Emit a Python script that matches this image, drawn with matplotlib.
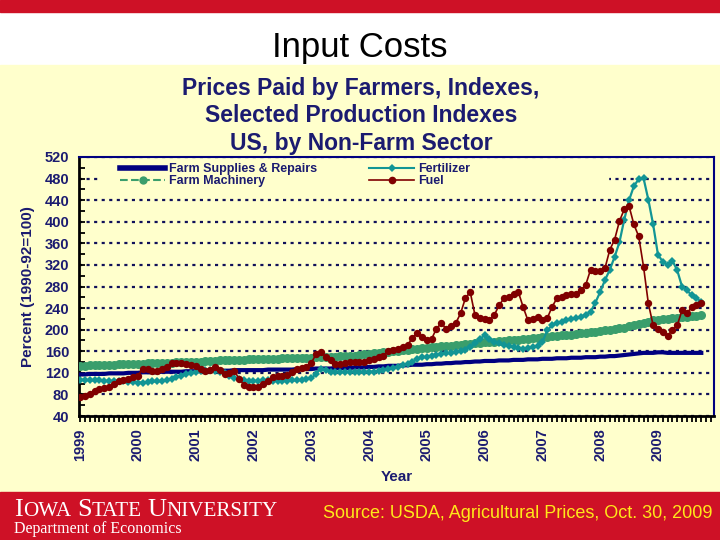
import matplotlib
matplotlib.use('Agg')
import matplotlib.pyplot as plt
from matplotlib.patches import Rectangle
from matplotlib.lines import Line2D
from matplotlib.ticker import MultipleLocator
import numpy as np
import pandas as pd

plt.rcParams['font.family'] = ['Liberation Sans', 'DejaVu Sans']

# monthly index values, Jan 1999 - Oct 2009 (1990-92=100)
months = pd.date_range('1999-01-01', periods=130, freq='MS')

supplies = [117, 117, 118, 118, 118, 118, 119, 119, 119, 119, 120, 120,
            120, 121, 121, 121, 121, 122, 122, 122, 122, 122, 123, 123,
            123, 123, 123, 124, 124, 124, 124, 124, 125, 125, 125, 125,
            125, 125, 125, 126, 126, 126, 126, 126, 126, 127, 127, 127,
            127, 128, 128, 128, 128, 129, 129, 129, 129, 130, 130, 130,
            131, 131, 132, 132, 133, 133, 133, 134, 134, 135, 135, 135,
            136, 136, 137, 137, 138, 138, 139, 139, 140, 140, 141, 141,
            142, 142, 142, 143, 143, 143, 144, 144, 144, 145, 145, 145,
            146, 146, 146, 147, 147, 147, 148, 148, 148, 149, 149, 149,
            150, 150, 151, 151, 152, 153, 154, 155, 156, 157, 157, 157,
            158, 158, 157, 157, 157, 157, 157, 157, 157, 157]

machinery = [133, 133, 134, 134, 134, 135, 135, 135, 136, 136, 136, 137,
             137, 137, 138, 138, 138, 139, 139, 139, 140, 140, 140, 141,
             141, 141, 142, 142, 142, 143, 143, 143, 144, 144, 144, 145,
             145, 145, 145, 146, 146, 146, 147, 147, 147, 147, 148, 148,
             148, 149, 149, 149, 150, 150, 151, 151, 152, 152, 153, 154,
             155, 156, 157, 158, 159, 160, 161, 162, 163, 164, 165, 166,
             166, 167, 168, 169, 170, 170, 171, 172, 173, 174, 175, 176,
             177, 177, 178, 179, 179, 180, 181, 181, 182, 183, 184, 185,
             186, 187, 188, 189, 190, 190, 191, 192, 193, 194, 195, 196,
             198, 199, 200, 201, 203, 204, 206, 208, 210, 213, 215, 217,
             218, 219, 220, 221, 222, 223, 224, 225, 226, 227]

fertilizer = [107, 107, 106, 106, 106, 105, 105, 105, 104, 104, 103, 103,
              102, 102, 103, 104, 104, 105, 107, 109, 112, 115, 117, 119,
              122, 124, 126, 126, 124, 121, 119, 115, 111, 108, 106, 105,
              105, 105, 106, 106, 105, 105, 105, 105, 106, 106, 107, 108,
              110, 118, 128, 126, 122, 121, 121, 121, 122, 122, 122, 122,
              122, 122, 123, 125, 127, 129, 131, 134, 137, 141, 146, 149,
              149, 151, 153, 155, 156, 157, 158, 160, 163, 168, 175, 182,
              190, 182, 178, 175, 172, 170, 168, 166, 165, 166, 167, 170,
              177, 199, 208, 212, 215, 217, 219, 221, 224, 228, 233, 250,
              270, 292, 311, 335, 362, 404, 440, 466, 479, 481, 441, 395,
              339, 326, 320, 328, 310, 280, 273, 264, 258, 252]

fuel = [76, 77, 81, 86, 90, 92, 93, 100, 105, 107, 109, 112,
        115, 128, 127, 124, 124, 128, 130, 138, 139, 138, 137, 135,
        132, 128, 124, 126, 130, 125, 118, 120, 124, 109, 98, 93,
        93, 94, 100, 105, 112, 115, 115, 116, 122, 128, 129, 130,
        138, 155, 158, 150, 143, 137, 137, 138, 140, 140, 140, 140,
        143, 146, 149, 152, 161, 163, 165, 168, 171, 185, 193, 186,
        180, 183, 202, 212, 202, 207, 212, 230, 258, 270, 227, 221,
        219, 217, 227, 245, 258, 261, 267, 270, 242, 217, 220, 224,
        217, 221, 242, 258, 261, 264, 266, 267, 273, 283, 311, 308,
        308, 314, 348, 367, 401, 423, 429, 395, 373, 317, 249, 208,
        202, 195, 189, 199, 208, 236, 230, 242, 245, 249]

years = list(range(1999, 2010))

W, H = 720, 540
RED = '#CE1126'
CREAM = '#FFFFCC'
TXT = '#1b1b70'
C_SUP = '#000080'
C_MACH = '#3a9e6c'
C_FERT = '#129595'
C_FUEL = '#800000'

x = months.year + (months.month - 1) / 12.0

fig = plt.figure(figsize=(7.2, 5.4), dpi=100)
fig.patch.set_facecolor('white')


def band(y0, y1, color):
    fig.add_artist(Rectangle((0, 1 - y1 / H), 1, (y1 - y0) / H,
                             transform=fig.transFigure, color=color, zorder=0))


band(0, 12, RED)
band(65, 492, CREAM)
band(492, 540, RED)

fig.text(360 / W, 1 - 57 / H, 'Input Costs', ha='center', va='baseline',
         fontsize=25, color='black')

titles = ['Prices Paid by Farmers, Indexes,', 'Selected Production Indexes',
          'US, by Non-Farm Sector']
for t, yy in zip(titles, [89, 116, 144]):
    fig.text(361 / W, 1 - yy / H, t, ha='center', va='center', fontsize=16.5,
             fontweight='bold', color=TXT)

ax = fig.add_axes([79 / W, 1 - 416 / H, (714 - 79) / W, (416 - 157) / H])
ax.set_facecolor(CREAM)
ax.set_axisbelow(True)

ax.plot(x, supplies, color=C_SUP, lw=3, zorder=3)
ax.plot(x, machinery, color=C_MACH, lw=1.5, ls='--', marker='o', ms=6.5,
        mew=0, zorder=4)
ax.plot(x, fertilizer, color=C_FERT, lw=1.6, marker='D', ms=4, mew=0,
        zorder=5)
ax.plot(x, fuel, color=C_FUEL, lw=1.2, marker='o', ms=5.3, mew=0, zorder=6)

ax.set_xlim(1998.98, 2009.97)
ax.set_ylim(40, 520)
ax.set_xticks(years)
ax.set_xticklabels([str(y) for y in years], rotation=90)
ax.xaxis.set_minor_locator(MultipleLocator(1 / 12))
ax.set_yticks(range(40, 521, 40))
ax.yaxis.set_minor_locator(MultipleLocator(20))

ax.tick_params(axis='x', which='both', direction='out', length=4, width=1.3,
               color='black', pad=5, labelsize=10.5, labelcolor=TXT)
ax.tick_params(axis='y', which='both', direction='in', length=4, width=1.3,
               color='black', pad=7, labelsize=10.5, labelcolor=TXT)
for lab in ax.get_xticklabels() + ax.get_yticklabels():
    lab.set_fontweight('bold')

ax.yaxis.grid(True, which='major', color='#10105a', linestyle=(0, (1.4, 2.0)),
              linewidth=1.6)

for side in ['left', 'bottom']:
    ax.spines[side].set_color('black')
    ax.spines[side].set_linewidth(2)
for side in ['top', 'right']:
    ax.spines[side].set_color(C_SUP)
    ax.spines[side].set_linewidth(1.5)

ax.set_xlabel('Year', fontsize=11, fontweight='bold', color=TXT, labelpad=6)
ax.set_ylabel('Percent (1990-92=100)', fontsize=11, fontweight='bold',
              color=TXT, labelpad=7)

# cover behind legend (hides the 480 grid line there)
ax.add_patch(Rectangle((0.033, 0.89), 0.80, 0.06, transform=ax.transAxes,
                       color=CREAM, zorder=1))

handles = [Line2D([], [], color=C_SUP, lw=4),
           Line2D([], [], color=C_MACH, lw=1.5, ls='--', marker='o', ms=6, mew=0),
           Line2D([], [], color=C_FERT, lw=1.5, marker='D', ms=4, mew=0),
           Line2D([], [], color=C_FUEL, lw=1.2, marker='o', ms=5.5, mew=0)]
labels = ['Farm Supplies & Repairs', 'Farm Machinery', 'Fertilizer', 'Fuel']
ax.legend(handles, labels, ncol=2, loc='upper left',
          bbox_to_anchor=(120 / W, 1 - 163 / H), bbox_transform=fig.transFigure,
          frameon=False, prop={'weight': 'bold', 'size': 9},
          labelcolor=TXT, handlelength=3.6, handletextpad=0.3,
          columnspacing=4.2, labelspacing=0.0, borderpad=0,
          borderaxespad=0, numpoints=1)

# footer
renderer = fig.canvas.get_renderer()
parts = [('I', 19, 0), ('OWA', 15.2, 6), ('S', 19, 0), ('TATE', 15.2, 6),
         ('U', 19, 0), ('NIVERSITY', 15.2, 0)]
xp = 14
for txt, size, gap in parts:
    t = fig.text(xp / W, 1 - 516 / H, txt, fontsize=size, color='white',
                 family='Liberation Serif', va='baseline', ha='left')
    xp += t.get_window_extent(renderer).width + gap

fig.text(14 / W, 1 - 533 / H, 'Department of Economics', fontsize=11.5,
         color='white', family='Liberation Serif', va='baseline', ha='left')
fig.text(323 / W, 1 - 514 / H, 'Source: USDA, Agricultural Prices, Oct. 30, 2009',
         fontsize=13, color='#FFE81A', va='center', ha='left')

fig.savefig('out.png', dpi=100, facecolor=fig.get_facecolor())
